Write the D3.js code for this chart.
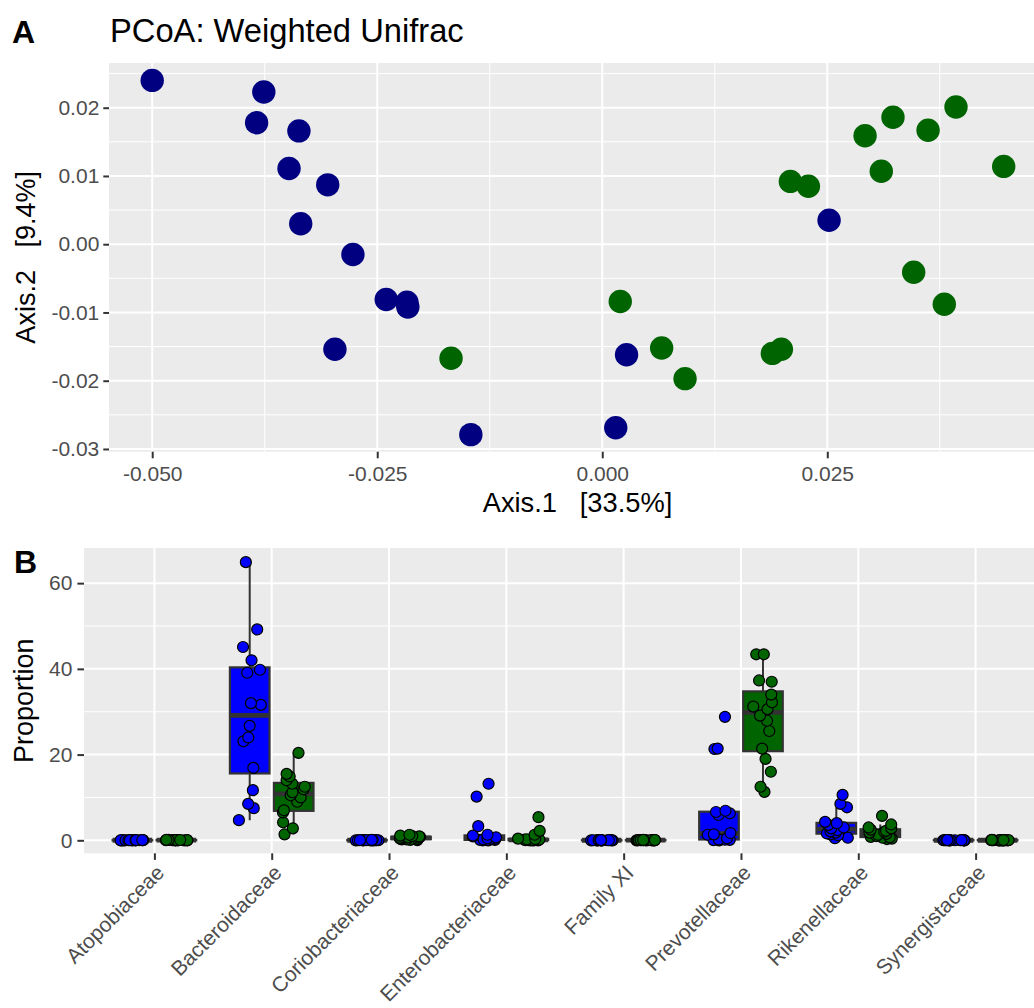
<!DOCTYPE html>
<html>
<head>
<meta charset="utf-8">
<script src="https://cdn.jsdelivr.net/npm/d3@7"></script>
<style>
  body { margin: 0; background: #fff; }
  svg text { font-family: "Liberation Sans", Arial, sans-serif; }
</style>
</head>
<body>
<div id="chart"></div>
<script>
// ---- panel A: PCoA (weighted unifrac) sample coordinates ----
const navyAxis1 = [-0.0500, -0.0376, -0.0384, -0.0337, -0.0348, -0.0305, -0.0335, -0.0277,
                   -0.0240, -0.0217, -0.0216, -0.0297, -0.0146, 0.0027, 0.0015, 0.0252];
const navyAxis2 = [0.0240, 0.0223, 0.0178, 0.0166, 0.0111, 0.0087, 0.0030, -0.0015,
                   -0.0081, -0.0085, -0.0092, -0.0154, -0.0279, -0.0162, -0.0269, 0.0035];
const greenAxis1 = [-0.0168, 0.0020, 0.0066, 0.0092, 0.0189, 0.0199, 0.0346, 0.0380,
                    0.0209, 0.0229, 0.0292, 0.0323, 0.0310, 0.0362, 0.0393, 0.0446];
const greenAxis2 = [-0.0167, -0.0084, -0.0152, -0.0197, -0.0160, -0.0154, -0.0041, -0.0088,
                    0.0092, 0.0085, 0.0159, 0.0186, 0.0107, 0.0167, 0.0201, 0.0114];
const xTicksA = [-0.05, -0.025, 0, 0.025];
const yTicksA = [-0.03, -0.02, -0.01, 0, 0.01, 0.02];

// ---- panel B: family proportions ----
const families = ["Atopobiaceae", "Bacteroidaceae", "Coriobacteriaceae", "Enterobacteriaceae",
                  "Family XI", "Prevotellaceae", "Rikenellaceae", "Synergistaceae"];
const blueProportion = [
  [0, 0, 0, 0, 0, 0.01, 0.01, 0.01, 0.02, 0.02, 0.02, 0.03, 0.03, 0.04, 0.05, 0.06],
  [4.7, 7.5, 8.5, 11.7, 16.9, 23.1, 24.0, 26.7, 31.6, 32.0, 39.1, 39.8, 42.0, 45.1, 49.2, 64.9],
  [0, 0, 0, 0, 0.01, 0.01, 0.01, 0.02, 0.02, 0.03, 0.03, 0.04, 0.04, 0.05, 0.06, 0.08],
  [0, 0, 0.05, 0.1, 0.1, 0.2, 0.3, 0.4, 0.5, 0.7, 0.9, 1.1, 1.3, 3.3, 10.2, 13.2],
  [0, 0, 0, 0, 0, 0, 0.01, 0.01, 0.01, 0.01, 0.02, 0.02, 0.02, 0.03, 0.04, 0.05],
  [0, 0.05, 0.1, 0.15, 0.2, 0.5, 1.3, 1.4, 1.7, 5.9, 6.3, 6.6, 6.9, 21.3, 21.4, 28.8],
  [0.5, 0.6, 1.2, 1.4, 1.6, 1.8, 2.1, 2.4, 2.8, 3.0, 3.6, 4.0, 4.3, 7.7, 8.5, 10.6],
  [0, 0, 0, 0, 0.01, 0.01, 0.01, 0.02, 0.02, 0.02, 0.03, 0.03, 0.04, 0.05, 0.05, 0.07]
];
const greenProportion = [
  [0, 0, 0, 0.01, 0.01, 0.02, 0.02, 0.03, 0.03, 0.04, 0.05, 0.05, 0.06, 0.07, 0.08, 0.1],
  [1.4, 2.8, 4.2, 6.5, 7.0, 9.0, 10.0, 10.5, 11.2, 11.9, 12.5, 13.2, 14.0, 14.9, 15.5, 20.4],
  [0.05, 0.1, 0.2, 0.2, 0.3, 0.4, 0.4, 0.5, 0.6, 0.6, 0.7, 0.8, 0.9, 1.0, 1.1, 1.3],
  [0, 0, 0, 0.02, 0.05, 0.05, 0.1, 0.1, 0.15, 0.2, 0.25, 0.3, 0.4, 1.3, 2.2, 5.4],
  [0, 0, 0, 0, 0.01, 0.01, 0.02, 0.02, 0.03, 0.03, 0.04, 0.04, 0.05, 0.06, 0.07, 0.09],
  [11.3, 12.5, 16.0, 19.0, 21.4, 25.5, 27.9, 29.1, 30.6, 31.2, 32.2, 34.0, 37.0, 37.3, 43.4, 43.4],
  [0.3, 0.4, 0.6, 0.7, 0.8, 1.0, 1.3, 1.5, 1.8, 2.0, 2.2, 2.5, 2.8, 3.0, 3.7, 5.7],
  [0, 0, 0, 0, 0, 0.01, 0.01, 0.02, 0.02, 0.03, 0.03, 0.04, 0.05, 0.05, 0.06, 0.08]
];
const yTicksB = [0, 20, 40, 60];

const width = 1034, height = 1008;
const panelBg = "#EBEBEB", tickText = "#4D4D4D", tickLine = "#333333";

const svg = d3.select("#chart").append("svg")
  .attr("width", width)
  .attr("height", height)
  .style("display", "block");

svg.append("rect").attr("width", width).attr("height", height).attr("fill", "#fff");

// shared ggplot-ish axis styling
function styleAxis(g, size) {
  g.select(".domain").remove();
  g.selectAll(".tick line").attr("stroke", tickLine).attr("stroke-width", 2);
  g.selectAll(".tick text").attr("fill", tickText).style("font-size", size + "px");
}

// =================== panel A ===================
const A = { left: 109, right: 1046, top: 63, bottom: 451.7 };

const xA = d3.scaleLinear().domain([-0.0548, 0.0493]).range([A.left, A.right]);
const yA = d3.scaleLinear().domain([-0.0304, 0.02655]).range([A.bottom, A.top]);

const gA = svg.append("g");
gA.append("rect")
  .attr("x", A.left).attr("y", A.top)
  .attr("width", A.right - A.left).attr("height", A.bottom - A.top)
  .attr("fill", panelBg);

// minor grid = midpoints between majors
const xMinorA = d3.range(-0.0625, 0.05, 0.025).filter(d => xA(d) > A.left && xA(d) < A.right);
const yMinorA = d3.range(-0.025, 0.03, 0.01).filter(d => yA(d) > A.top && yA(d) < A.bottom);

gA.selectAll(".xminor").data(xMinorA).enter().append("line")
  .attr("x1", d => xA(d)).attr("x2", d => xA(d))
  .attr("y1", A.top).attr("y2", A.bottom)
  .attr("stroke", "#fff").attr("stroke-width", 1);
gA.selectAll(".yminor").data(yMinorA).enter().append("line")
  .attr("x1", A.left).attr("x2", A.right)
  .attr("y1", d => yA(d)).attr("y2", d => yA(d))
  .attr("stroke", "#fff").attr("stroke-width", 1);
gA.selectAll(".xmajor").data(xTicksA).enter().append("line")
  .attr("x1", d => xA(d)).attr("x2", d => xA(d))
  .attr("y1", A.top).attr("y2", A.bottom)
  .attr("stroke", "#fff").attr("stroke-width", 2);
gA.selectAll(".ymajor").data(yTicksA).enter().append("line")
  .attr("x1", A.left).attr("x2", A.right)
  .attr("y1", d => yA(d)).attr("y2", d => yA(d))
  .attr("stroke", "#fff").attr("stroke-width", 2);

const pointsA = navyAxis1.map((d, i) => ({ x: d, y: navyAxis2[i], fill: "#000080" }))
  .concat(greenAxis1.map((d, i) => ({ x: d, y: greenAxis2[i], fill: "#006400" })));

gA.selectAll(".pt").data(pointsA).enter().append("circle")
  .attr("cx", d => xA(d.x)).attr("cy", d => yA(d.y))
  .attr("r", 11.7)
  .attr("fill", d => d.fill);

const axXA = gA.append("g")
  .attr("transform", `translate(0,${A.bottom})`)
  .call(d3.axisBottom(xA).tickValues(xTicksA).tickSize(6.6).tickPadding(8)
    .tickFormat(d => d.toFixed(3)));
styleAxis(axXA, 21);

const axYA = gA.append("g")
  .attr("transform", `translate(${A.left},0)`)
  .call(d3.axisLeft(yA).tickValues(yTicksA).tickSize(5.7).tickPadding(4)
    .tickFormat(d => (Math.abs(d) < 1e-9 ? 0 : d).toFixed(2)));
styleAxis(axYA, 21);

svg.append("text")
  .attr("x", 12).attr("y", 43)
  .style("font-size", "32px").style("font-weight", "bold")
  .text("A");
svg.append("text")
  .attr("x", 110).attr("y", 42.3)
  .style("font-size", "32.7px")
  .text("PCoA: Weighted Unifrac");
svg.append("text")
  .attr("x", (A.left + A.right) / 2).attr("y", 512)
  .attr("text-anchor", "middle")
  .style("font-size", "27.3px").style("white-space", "pre")
  .text("Axis.1   [33.5%]");
svg.append("text")
  .attr("transform", `translate(35,${(A.top + A.bottom) / 2}) rotate(-90)`)
  .attr("text-anchor", "middle")
  .style("font-size", "27px").style("white-space", "pre")
  .text("Axis.2   [9.4%]");

// =================== panel B ===================
const B = { left: 84, right: 1046, top: 548, bottom: 853.3 };

const xB = d3.scalePoint().domain(families).range([B.left, B.right]).padding(0.6);
const step = xB.step();
const dodge = d3.scaleBand().domain(["blue", "green"]).range([-0.375 * step, 0.375 * step]);
const boxW = dodge.bandwidth() * 0.9;
const yB = d3.scaleLinear().domain([-3.03, 68.2]).range([B.bottom, B.top]);
const groupFill = { blue: "#0000FF", green: "#006400" };

const gB = svg.append("g");
gB.append("rect")
  .attr("x", B.left).attr("y", B.top)
  .attr("width", B.right - B.left).attr("height", B.bottom - B.top)
  .attr("fill", panelBg);

const yMinorB = [10, 30, 50];
gB.selectAll(".yminor").data(yMinorB).enter().append("line")
  .attr("x1", B.left).attr("x2", B.right)
  .attr("y1", d => yB(d)).attr("y2", d => yB(d))
  .attr("stroke", "#fff").attr("stroke-width", 1);
gB.selectAll(".ymajor").data(yTicksB).enter().append("line")
  .attr("x1", B.left).attr("x2", B.right)
  .attr("y1", d => yB(d)).attr("y2", d => yB(d))
  .attr("stroke", "#fff").attr("stroke-width", 2);
gB.selectAll(".xmajor").data(families).enter().append("line")
  .attr("x1", d => xB(d)).attr("x2", d => xB(d))
  .attr("y1", B.top).attr("y2", B.bottom)
  .attr("stroke", "#fff").attr("stroke-width", 2);

// box stats like R's boxplot (type 7 quantiles, 1.5 IQR whiskers)
function boxStats(values) {
  const v = values.slice().sort(d3.ascending);
  const q1 = d3.quantileSorted(v, 0.25), med = d3.quantileSorted(v, 0.5), q3 = d3.quantileSorted(v, 0.75);
  const iqr = q3 - q1;
  const lo = d3.min(v.filter(d => d >= q1 - 1.5 * iqr));
  const hi = d3.max(v.filter(d => d <= q3 + 1.5 * iqr));
  return { q1, med, q3, lo, hi };
}

const groups = [];
families.forEach((f, i) => {
  groups.push({ family: f, group: "blue", values: blueProportion[i] });
  groups.push({ family: f, group: "green", values: greenProportion[i] });
});
groups.forEach(g => {
  g.cx = xB(g.family) + dodge(g.group) + dodge.bandwidth() / 2;
  g.stats = boxStats(g.values);
});

const boxes = gB.selectAll(".box").data(groups).enter().append("g").attr("class", "box");
boxes.append("line")
  .attr("x1", d => d.cx).attr("x2", d => d.cx)
  .attr("y1", d => yB(d.stats.hi)).attr("y2", d => yB(d.stats.lo))
  .attr("stroke", tickLine).attr("stroke-width", 2);
boxes.append("rect")
  .attr("x", d => d.cx - boxW / 2)
  .attr("y", d => yB(d.stats.q3))
  .attr("width", boxW)
  .attr("height", d => Math.max(0, yB(d.stats.q1) - yB(d.stats.q3)))
  .attr("fill", d => groupFill[d.group])
  .attr("stroke", tickLine).attr("stroke-width", 2.2);
boxes.append("line")
  .attr("x1", d => d.cx - boxW / 2).attr("x2", d => d.cx + boxW / 2)
  .attr("y1", d => yB(d.stats.med)).attr("y2", d => yB(d.stats.med))
  .attr("stroke", tickLine).attr("stroke-width", 4.8);

// jittered sample points (seeded so the picture is stable)
const jitter = d3.randomUniform.source(d3.randomLcg(0.37))(-1, 1);
const pointsB = [];
groups.forEach(g => {
  g.values.forEach(v => pointsB.push({ x: g.cx + jitter() * 0.1 * step, v, group: g.group }));
});
gB.selectAll(".pt").data(pointsB).enter().append("circle")
  .attr("cx", d => d.x).attr("cy", d => yB(d.v))
  .attr("r", 5.5)
  .attr("fill", d => groupFill[d.group])
  .attr("stroke", "#000").attr("stroke-width", 1.2);

const axYB = gB.append("g")
  .attr("transform", `translate(${B.left},0)`)
  .call(d3.axisLeft(yB).tickValues(yTicksB).tickSize(6.6).tickPadding(5));
styleAxis(axYB, 21);

const axXB = gB.append("g")
  .attr("transform", `translate(0,${B.bottom})`)
  .call(d3.axisBottom(xB).tickSize(6.6));
styleAxis(axXB, 21);
axXB.selectAll(".tick text")
  .attr("x", 0).attr("y", 0).attr("dy", "0.72em")
  .attr("text-anchor", "end")
  .attr("transform", "translate(0,10) rotate(-45)");

svg.append("text")
  .attr("x", 14).attr("y", 573)
  .style("font-size", "32px").style("font-weight", "bold")
  .text("B");
svg.append("text")
  .attr("transform", `translate(33.3,${(B.top + B.bottom) / 2}) rotate(-90)`)
  .attr("text-anchor", "middle")
  .style("font-size", "27px")
  .text("Proportion");
</script>
</body>
</html>
